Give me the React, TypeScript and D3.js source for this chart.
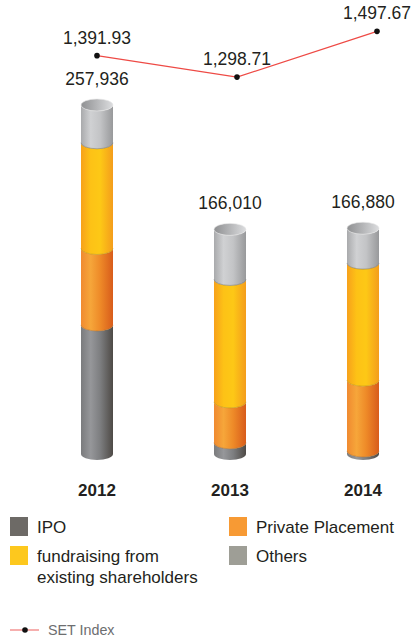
import React from 'react';
import * as d3 from 'd3';

const years = ['2012', '2013', '2014'];
const ipo = [95386, 8310, 2280];
const privatePlacement = [56500, 30200, 52300];
const fundraising = [78150, 90500, 86500];
const others = [27900, 37000, 25800];
const totals = [257936, 166010, 166880];
const setIndex = [1391.93, 1298.71, 1497.67];

const seriesKeys = ['ipo', 'private', 'fund', 'others'];
const seriesNames = ['IPO', 'Private Placement', 'fundraising from existing shareholders', 'Others'];
const legendColors = ['#6d6a66', '#f79a34', '#fdc81e', '#9e9e96'];
const gradStops: Record<string, string[]> = {
  ipo: ['#7a7b7d', '#96979a', '#7d7e80', '#4e4a46'],
  private: ['#f08a30', '#f6a63a', '#ee8a28', '#d85c1b'],
  fund: ['#f7a11b', '#fdc216', '#fdc816', '#f49d1c'],
  others: ['#a9aaac', '#d0d1d3', '#c3c4c6', '#98999b'],
};

const W = 412;
const H = 639;
const FONT = '"Liberation Sans", Arial, Helvetica, sans-serif';

export default function App() {
  const table = years.map((y, i) => ({
    year: y,
    ipo: ipo[i],
    private: privatePlacement[i],
    fund: fundraising[i],
    others: others[i],
  }));
  const stack = d3.stack<any>().keys(seriesKeys)(table);

  const xBar = d3.scalePoint<string>().domain(years).range([97, 363]);
  const xLine = d3.scalePoint<string>().domain(years).range([97, 377]);
  const yBar = d3.scaleLinear().domain([0, 257936]).range([454, 105]);
  const yLine = d3.scaleLinear().domain([1200, 1600]).range([99.8, 7.8]);

  const rx = 16;
  const ry = 6;

  const segPath = (cx: number, yTop: number, yBot: number) => {
    const x0 = cx - rx;
    const x1 = cx + rx;
    return `M${x0},${yTop} A${rx},${ry} 0 0 0 ${x1},${yTop} L${x1},${yBot} A${rx},${ry} 0 0 1 ${x0},${yBot} Z`;
  };
  const arcPath = (cx: number, y: number) =>
    `M${cx - rx},${y} A${rx},${ry} 0 0 0 ${cx + rx},${y}`;

  const lineGen = d3
    .line<number>()
    .x((_, i) => xLine(years[i]) as number)
    .y((d) => yLine(d));

  const fmtInt = d3.format(',');
  const fmtIdx = d3.format(',.2f');

  return (
    <svg
      width={W}
      height={H}
      style={{ position: 'absolute', left: 0, top: 0, background: '#fff' }}
      fontFamily={FONT}
    >
      <defs>
        {seriesKeys.map((k) => (
          <linearGradient id={`g-${k}`} key={k} x1="0" x2="1" y1="0" y2="0">
            <stop offset="0" stopColor={gradStops[k][0]} />
            <stop offset="0.3" stopColor={gradStops[k][1]} />
            <stop offset="0.6" stopColor={gradStops[k][2]} />
            <stop offset="1" stopColor={gradStops[k][3]} />
          </linearGradient>
        ))}
        <linearGradient id="g-cap" x1="0" x2="1" y1="0" y2="0">
          <stop offset="0" stopColor="#8f9092" />
          <stop offset="0.5" stopColor="#b5b6b8" />
          <stop offset="1" stopColor="#dcdddf" />
        </linearGradient>
      </defs>

      {/* bars */}
      {years.map((yr, i) => {
        const cx = xBar(yr) as number;
        const topY = yBar(totals[i]);
        return (
          <g key={yr}>
            {stack.map((s) => {
              const d = s[i];
              const yTop = yBar(d[1]);
              const yBot = yBar(d[0]);
              return (
                <path key={s.key} d={segPath(cx, yTop, yBot)} fill={`url(#g-${s.key})`} />
              );
            })}
            {stack.slice(1).map((s) => {
              const d = s[i];
              const yBot = yBar(d[0]);
              const c = d3.color(legendColors[seriesKeys.indexOf(s.key)])!.darker(0.9).toString();
              return (
                <path key={'b' + s.key} d={arcPath(cx, yBot)} fill="none" stroke={c} strokeOpacity={0.55} strokeWidth={1} />
              );
            })}
            <ellipse cx={cx} cy={topY} rx={rx} ry={ry} fill="url(#g-cap)" stroke="#e6e6e6" strokeWidth={0.6} />
            <text
              x={cx}
              y={topY - ry - 14}
              textAnchor="middle"
              fontSize={17.5}
              fill="#231f20"
            >
              {fmtInt(totals[i])}
            </text>
            <text
              x={cx}
              y={496}
              textAnchor="middle"
              fontSize={17}
              fontWeight="bold"
              fill="#231f20"
            >
              {yr}
            </text>
          </g>
        );
      })}

      {/* SET index line */}
      <path d={lineGen(setIndex) as string} fill="none" stroke="#ee4a45" strokeWidth={1.2} />
      {setIndex.map((v, i) => (
        <g key={'p' + i}>
          <circle cx={xLine(years[i]) as number} cy={yLine(v)} r={2.8} fill="#111" />
          <text
            x={xLine(years[i]) as number}
            y={yLine(v) - 12}
            textAnchor="middle"
            fontSize={17.5}
            fill="#231f20"
          >
            {fmtIdx(v)}
          </text>
        </g>
      ))}

      {/* legend */}
      {[
        { idx: 0, x: 10, y: 517 },
        { idx: 1, x: 229, y: 517 },
        { idx: 2, x: 10, y: 546 },
        { idx: 3, x: 229, y: 546 },
      ].map(({ idx, x, y }) => {
        const name = seriesNames[idx];
        const lines = idx === 2 ? ['fundraising from', 'existing shareholders'] : [name];
        return (
          <g key={'l' + idx}>
            <rect x={x} y={y} width={18} height={19} fill={legendColors[idx]} />
            {lines.map((t, j) => (
              <text key={j} x={x + 27} y={y + 16 + j * 21} fontSize={17} fill="#231f20">
                {t}
              </text>
            ))}
          </g>
        );
      })}
      <line x1={10} x2={39} y1={630} y2={630} stroke="#f07a78" strokeWidth={1.2} />
      <circle cx={25} cy={630} r={2.8} fill="#111" />
      <text x={48} y={635} fontSize={14.3} fill="#6d6e70">
        SET Index
      </text>
    </svg>
  );
}
